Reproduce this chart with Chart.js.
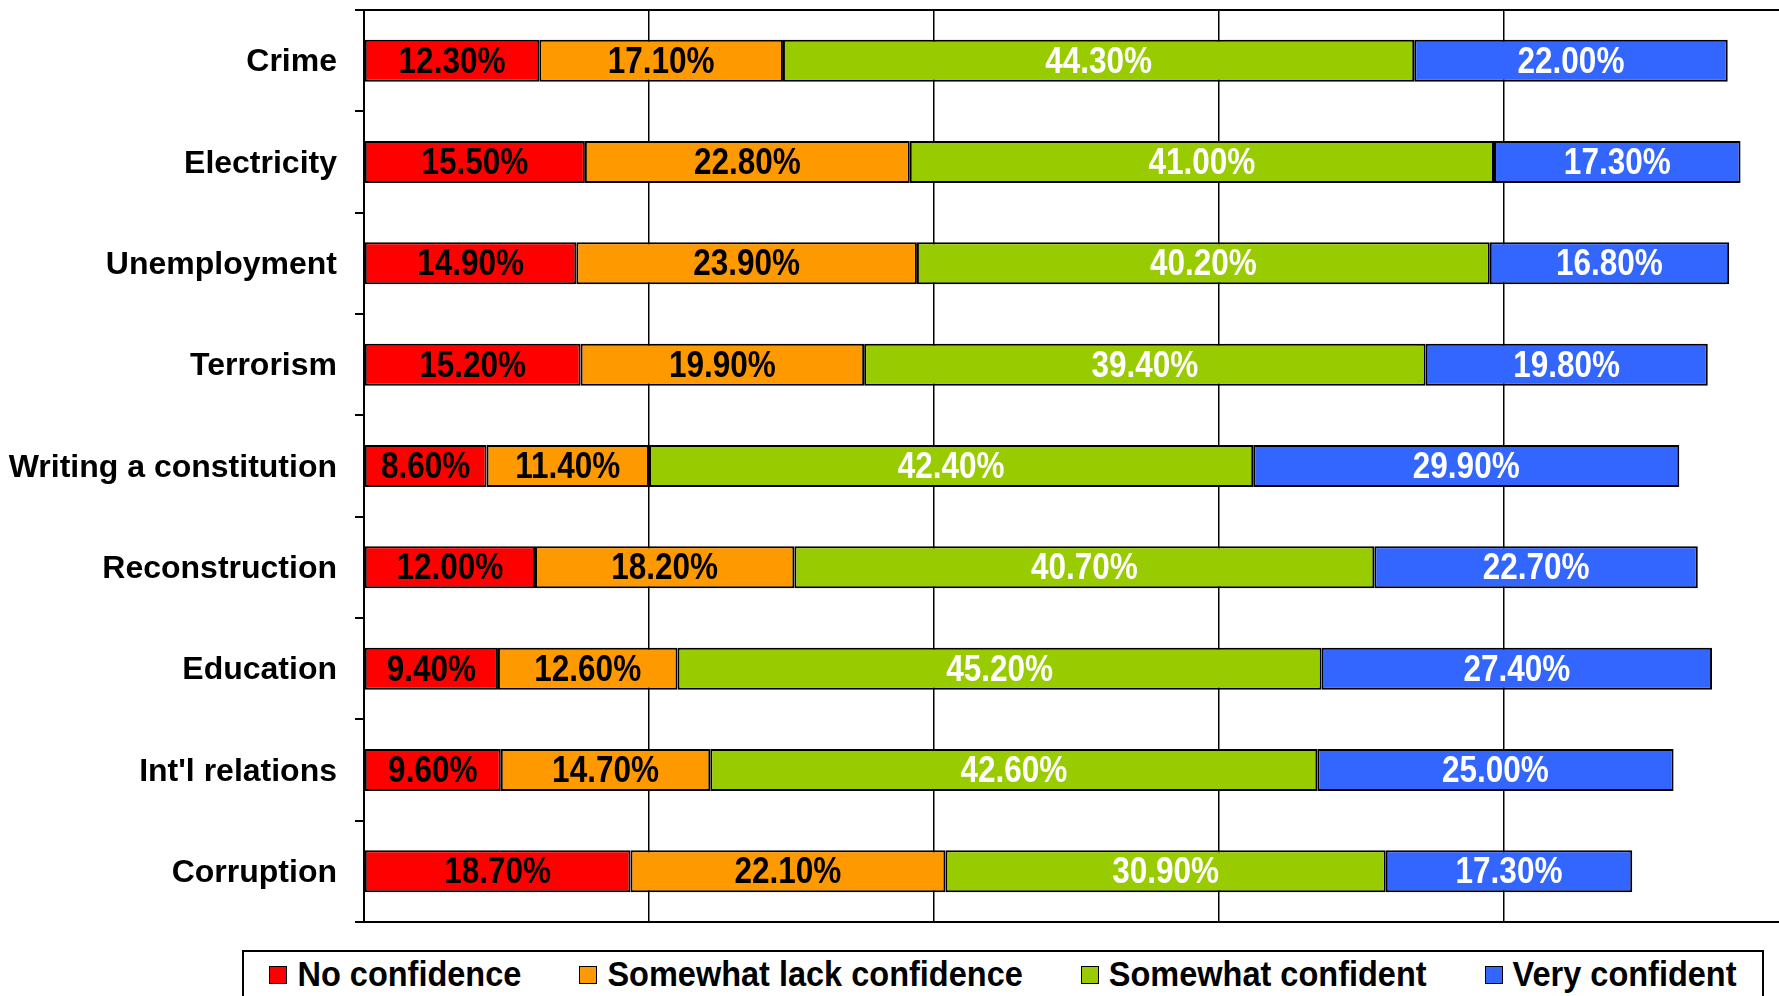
<!DOCTYPE html>
<html>
<head>
<meta charset="utf-8">
<script src="https://cdn.jsdelivr.net/npm/chart.js@4.4.1/dist/chart.umd.min.js"></script>
<style>
  html, body { margin: 0; padding: 0; background: #fff; overflow: hidden; width: 1779px; height: 996px; }
  #wrap { position: absolute; left: 0; top: 0; width: 1800px; height: 996px; }
  #legend {
    position: absolute; left: 242px; top: 950px; width: 1522px; height: 70px;
    border: 2px solid #000; box-sizing: border-box; background: #fff;
    display: flex; justify-content: center; align-items: flex-start; padding-top: 4px;
    font-family: "Liberation Sans", Arial, sans-serif; font-weight: bold; font-size: 32.5px; color: #000;
  }
  .item { display: flex; align-items: center; margin: 0 29px; white-space: nowrap; }
  .sw { width: 16px; height: 16px; border: 1.5px solid #000; margin-right: 10px; flex: none; }
  .tx { display: inline-block; transform: scaleY(1.1); }
</style>
</head>
<body>
<div id="wrap"><canvas id="c"></canvas></div>
<div id="legend"></div>
<script>
const categories = ["Crime", "Electricity", "Unemployment", "Terrorism", "Writing a constitution", "Reconstruction", "Education", "Int'l relations", "Corruption"];
const seriesNames = ["No confidence", "Somewhat lack confidence", "Somewhat confident", "Very confident"];
const noConfidence = [12.3, 15.5, 14.9, 15.2, 8.6, 12.0, 9.4, 9.6, 18.7];
const somewhatLack = [17.1, 22.8, 23.9, 19.9, 11.4, 18.2, 12.6, 14.7, 22.1];
const somewhatConfident = [44.3, 41.0, 40.2, 39.4, 42.4, 40.7, 45.2, 42.6, 30.9];
const veryConfident = [22.0, 17.3, 16.8, 19.8, 29.9, 22.7, 27.4, 25.0, 17.3];
const xTicks = [0, 20, 40, 60, 80, 100];

const colors = ["#FF0000", "#FF9900", "#99CC00", "#3366FF"];
const labelColors = ["#000000", "#000000", "#FFFFFF", "#FFFFFF"];
const seriesData = [noConfidence, somewhatLack, somewhatConfident, veryConfident];
const FONT = '"Liberation Sans", Arial, sans-serif';

const datasets = seriesNames.map((name, i) => ({
  label: name,
  data: seriesData[i],
  backgroundColor: colors[i],
  borderColor: "#000",
  borderWidth: 2,
  borderSkipped: false,
  barPercentage: 0.415,
  categoryPercentage: 1.0
}));

const valueLabels = {
  id: "valueLabels",
  afterDatasetsDraw(chart) {
    const ctx = chart.ctx;
    chart.data.datasets.forEach((ds, di) => {
      const meta = chart.getDatasetMeta(di);
      meta.data.forEach((el, idx) => {
        const p = el.getProps(["x", "y", "base"], true);
        ctx.save();
        ctx.font = "bold 31.5px " + FONT;
        ctx.textAlign = "center";
        ctx.textBaseline = "middle";
        ctx.fillStyle = labelColors[di];
        ctx.translate((p.x + p.base) / 2, p.y + 2);
        ctx.scale(1, 1.15);
        ctx.fillText(ds.data[idx].toFixed(2) + "%", 0, 0);
        ctx.restore();
      });
    });
  }
};

new Chart(document.getElementById("c"), {
  type: "bar",
  data: { labels: categories, datasets },
  options: {
    indexAxis: "y",
    responsive: true,
    maintainAspectRatio: false,
    devicePixelRatio: 1,
    animation: false,
    layout: { padding: { top: 10, right: 11, bottom: 74, left: 0 } },
    plugins: { legend: { display: false }, tooltip: { enabled: false } },
    scales: {
      x: {
        stacked: true, min: 0, max: 100,
        afterBuildTicks: (s) => { s.ticks = xTicks.map(v => ({ value: v })); },
        afterFit: (s) => { s.height = 0; s.paddingLeft = 0; s.paddingRight = 0; },
        ticks: { display: false },
        grid: { color: "#000", lineWidth: 1.5, drawTicks: false },
        border: { color: "#000", width: 2 }
      },
      x2: {
        position: "top", min: 0, max: 100,
        afterFit: (s) => { s.height = 0; s.paddingLeft = 0; s.paddingRight = 0; },
        ticks: { display: false },
        grid: { display: false },
        border: { display: true, color: "#000", width: 2 }
      },
      y: {
        stacked: true,
        afterFit: (s) => { s.width = 364; s.paddingTop = 0; s.paddingBottom = 0; },
        ticks: { color: "#000", font: { family: FONT, size: 32, weight: "bold" }, padding: 18, labelOffset: 2 },
        grid: { color: "#000", lineWidth: 2, drawOnChartArea: false, tickLength: 9, offset: true },
        border: { color: "#000", width: 2 }
      }
    }
  },
  plugins: [valueLabels]
});

const legend = document.getElementById("legend");
seriesNames.forEach((name, i) => {
  const it = document.createElement("div");
  it.className = "item";
  const sw = document.createElement("span");
  sw.className = "sw";
  sw.style.background = colors[i];
  const tx = document.createElement("span");
  tx.className = "tx";
  tx.textContent = name;
  it.appendChild(sw); it.appendChild(tx);
  legend.appendChild(it);
});
</script>
</body>
</html>
